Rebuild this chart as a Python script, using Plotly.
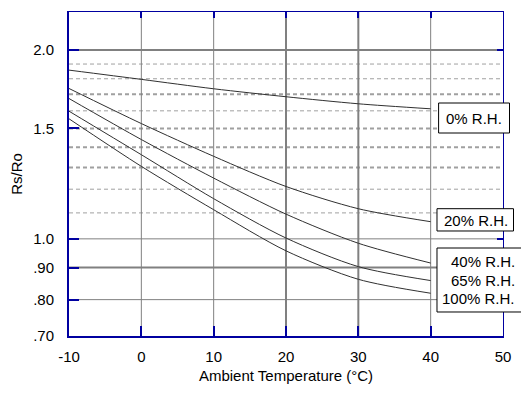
import plotly.graph_objects as go
import math

# ---- data ----
temps = [-10, 0, 10, 20, 30, 40]
rh_labels = ["0% R.H.", "20% R.H.", "40% R.H.", "65% R.H.", "100% R.H."]
rh0 = [1.858, 1.796, 1.735, 1.685, 1.642, 1.612]
rh20 = [1.737, 1.527, 1.354, 1.212, 1.117, 1.065]
rh40 = [1.674, 1.440, 1.250, 1.095, 0.984, 0.915]
rh65 = [1.598, 1.362, 1.159, 1.003, 0.903, 0.858]
rh100 = [1.554, 1.305, 1.113, 0.957, 0.862, 0.819]

x_ticks = [-10, 0, 10, 20, 30, 40, 50]
y_tickvals = [0.7, 0.8, 0.9, 1.0, 1.5, 2.0]
y_ticktext = [".70", ".80", ".90", "1.0", "1.5", "2.0"]
y_solid_grid = [0.8, 0.9, 1.0, 2.0]
y_dashed_grid = [1.1, 1.2, 1.3, 1.4, 1.5, 1.6, 1.7, 1.8, 1.9]
x_grid = [0, 10, 20, 30, 40]

X_RANGE = [-10, 50]
Y_MIN, Y_MAX = 0.7, 2.30

BLUE = "#0000A0"
GRID = "#808080"
CURVE = "#303030"
FONT = "Liberation Sans, Arial, sans-serif"

fig = go.Figure()

# gridlines
thick_h = {0.9, 2.0}
for i, v in enumerate(y_solid_grid):
    fig.add_trace(go.Scatter(x=X_RANGE, y=[v, v], mode="lines",
                             line=dict(color=GRID, width=2 if v in thick_h else 1),
                             hoverinfo="skip", showlegend=False))
# same solid 2.0 gridline on the mirrored (top/right) axes so those frame lines are drawn
fig.add_trace(go.Scatter(x=X_RANGE, y=[y_solid_grid[-1]] * 2, mode="lines",
                         xaxis="x2", yaxis="y2",
                         line=dict(color=GRID, width=2),
                         hoverinfo="skip", showlegend=False))
thick_d = {1.3, 1.4, 1.5, 1.7}
for v in y_dashed_grid:
    fig.add_trace(go.Scatter(x=X_RANGE, y=[v, v], mode="lines",
                             line=dict(color="#A0A0A0", width=2 if v in thick_d else 1,
                                       dash="4px,3px"),
                             hoverinfo="skip", showlegend=False))
thick_v = {20, 30}
for v in x_grid:
    fig.add_trace(go.Scatter(x=[v, v], y=[Y_MIN, Y_MAX], mode="lines",
                             line=dict(color=GRID, width=2 if v in thick_v else 1),
                             hoverinfo="skip", showlegend=False))

# curves
for name, ys in zip(rh_labels, [rh0, rh20, rh40, rh65, rh100]):
    fig.add_trace(go.Scatter(x=temps, y=ys, mode="lines", name=name,
                             line=dict(color=CURVE, width=1, shape="spline", smoothing=0.8),
                             showlegend=False))

# label boxes (paper coords)
boxes = [
    (0.8516, 1.015, 0.6265, 0.7191),
    (0.8479, 1.0242, 0.3241, 0.3929),
    (0.8479, 1.0521, 0.0741, 0.2716),
]
for x0, x1, y0, y1 in boxes:
    fig.add_shape(type="rect", xref="paper", yref="paper", x0=x0, x1=x1, y0=y0, y1=y1,
                  line=dict(color="#000000", width=1), fillcolor="white", layer="above")

lab_font = dict(family=FONT, size=15, color="#000000")
fig.add_annotation(text=rh_labels[0], xref="paper", yref="paper", x=0.9332, y=0.6728,
                   showarrow=False, xanchor="center", yanchor="middle", font=lab_font)
fig.add_annotation(text=rh_labels[1], xref="paper", yref="paper", x=0.9378, y=0.3559,
                   showarrow=False, xanchor="center", yanchor="middle", font=lab_font)
for txt, yy in zip(rh_labels[2:], [0.2284, 0.1698, 0.1142]):
    fig.add_annotation(text=txt, xref="paper", yref="paper", x=1.0323, y=yy,
                       showarrow=False, xanchor="right", yanchor="middle", font=lab_font)

# The page body adds an 8px margin, so the figure is shifted up/left by 8px.
tick_font = dict(family=FONT, size=15, color="#000000")
fig.update_layout(
    width=521, height=386,
    margin=dict(l=61, r=26, t=4, b=58, autoexpand=False),
    paper_bgcolor="white", plot_bgcolor="white",
    showlegend=False,
    font=dict(family=FONT, size=15, color="#000000"),
    xaxis=dict(range=X_RANGE, tickvals=x_ticks, ticktext=[str(t) for t in x_ticks],
               showgrid=False, zeroline=False, showline=True, linecolor=BLUE, linewidth=2,
               ticks="inside", ticklen=10, tickcolor=BLUE, tickwidth=1.5,
               tickfont=tick_font, ticklabelstandoff=6,
               title=dict(text="Ambient Temperature (°C)", font=dict(family=FONT, size=15),
                          standoff=6)),
    yaxis=dict(type="log", range=[math.log10(Y_MIN), math.log10(Y_MAX)],
               tickvals=y_tickvals, ticktext=y_ticktext,
               showgrid=False, zeroline=False, showline=True, linecolor=BLUE, linewidth=2,
               ticks="inside", ticklen=10, tickcolor=BLUE, tickwidth=1.5,
               tickfont=tick_font, ticklabelstandoff=10,
               title=dict(text="Rs/Ro", font=dict(family=FONT, size=15), standoff=18)),
    xaxis2=dict(overlaying="x", side="top", anchor="y2", range=X_RANGE, tickvals=x_ticks,
                showticklabels=False, showgrid=False, zeroline=False, showline=True,
                linecolor=BLUE, linewidth=1, ticks="inside", ticklen=6, tickcolor=BLUE,
                tickwidth=1.5),
    yaxis2=dict(overlaying="y", side="right", anchor="x2", type="log",
                range=[math.log10(Y_MIN), math.log10(Y_MAX)], tickvals=y_tickvals,
                showticklabels=False, showgrid=False, zeroline=False, showline=True,
                linecolor=BLUE, linewidth=1, ticks="inside", ticklen=6, tickcolor=BLUE,
                tickwidth=1.5),
)

fig.write_html("out.html")
